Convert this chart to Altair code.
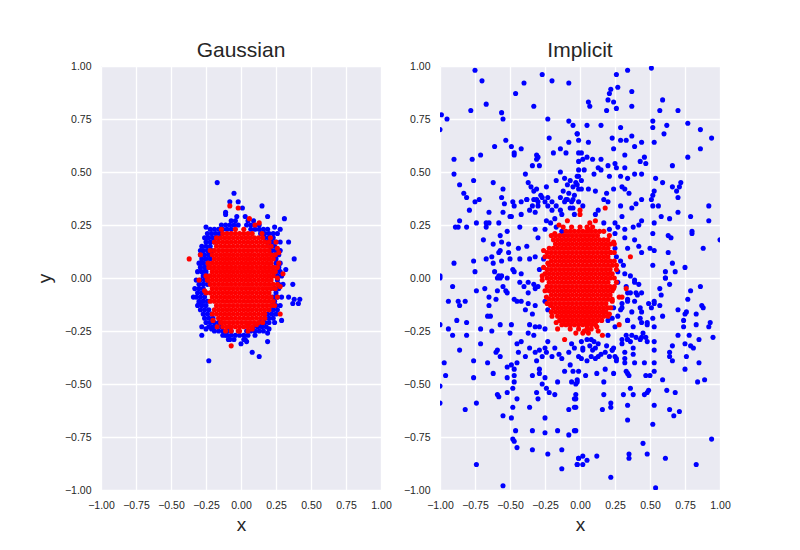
import altair as alt
import pandas as pd

TICKS = [-1.0, -0.75, -0.5, -0.25, 0.0, 0.25, 0.5, 0.75, 1.0]

# ---------------- Gaussian panel ----------------
gauss_blue_pts = [
    (-0.17, 0.45), (-0.05, 0.40), (-0.08, 0.36), (-0.02, 0.36), (0.01, 0.33), (-0.11, 0.31),
    (-0.11, 0.30), (0.15, 0.34), (0.19, 0.29), (0.31, 0.28), (-0.25, 0.24), (-0.24, 0.19),
    (0.24, 0.24), (0.28, 0.23), (0.34, 0.17), (0.38, 0.09), (-0.29, 0.13), (-0.29, 0.07),
    (0.32, 0.04), (0.37, -0.03), (-0.34, -0.09), (0.34, -0.09), (0.38, -0.10), (0.42, -0.10),
    (0.37, -0.12), (0.41, -0.12), (-0.30, -0.12), (-0.27, -0.11), (-0.28, -0.23), (-0.25, -0.24),
    (-0.21, -0.24), (-0.28, -0.27), (0.29, -0.20), (0.20, -0.24), (0.19, -0.26), (-0.11, -0.27),
    (-0.08, -0.29), (0.00, -0.31), (0.03, -0.29), (0.04, -0.30), (0.19, -0.30), (0.08, -0.35),
    (0.13, -0.37), (-0.23, -0.39),
]

gauss_blue_rows = [
    (0.29, [-0.03, 0.03]),
    (0.27, [-0.07, -0.04, 0.05, 0.09]),
    (0.25, [-0.14, -0.11, -0.08, -0.05, -0.02, 0.04, 0.07, 0.10, 0.13]),
    (0.23, [-0.22, -0.19, -0.16, -0.13, -0.10, -0.07, 0.07, 0.10, 0.13, 0.16, 0.19]),
    (0.21, [-0.24, -0.21, -0.18, -0.15, 0.14, 0.17, 0.20, 0.23, 0.26]),
    (0.19, [-0.26, -0.23, -0.20, -0.17, 0.17, 0.20, 0.23]),
    (0.17, [-0.25, -0.22, -0.19, 0.19, 0.22, 0.25, 0.28]),
    (0.15, [-0.28, -0.25, -0.22, 0.21, 0.24]),
    (0.13, [-0.27, -0.24, -0.21, 0.22, 0.25, 0.28]),
    (0.11, [-0.29, -0.26, -0.23, 0.24, 0.27]),
    (0.09, [-0.28, -0.25, -0.22, 0.25]),
    (0.07, [-0.30, -0.27, -0.24, 0.25, 0.28]),
    (0.05, [-0.29, -0.26, -0.23, 0.27]),
    (0.03, [-0.31, -0.28, -0.25, 0.25, 0.28]),
    (0.01, [-0.27, -0.24, 0.26, 0.29]),
    (-0.01, [-0.32, -0.29, -0.26, 0.26]),
    (-0.03, [-0.30, -0.27, -0.24, 0.27, 0.30]),
    (-0.05, [-0.33, -0.30, -0.27, 0.24, 0.27]),
    (-0.07, [-0.31, -0.28, -0.25, 0.25]),
    (-0.09, [-0.32, -0.29, -0.26, 0.23, 0.26, 0.29]),
    (-0.11, [-0.30, -0.27, -0.24, 0.24]),
    (-0.13, [-0.31, -0.28, -0.25, 0.22, 0.25, 0.28]),
    (-0.15, [-0.29, -0.26, -0.23, 0.23, 0.26]),
    (-0.17, [-0.27, -0.24, -0.21, 0.19, 0.22, 0.25]),
    (-0.19, [-0.26, -0.23, -0.20, 0.17, 0.20, 0.23]),
    (-0.21, [-0.25, -0.22, -0.19, -0.16, 0.14, 0.17, 0.20, 0.24]),
    (-0.23, [-0.23, -0.20, -0.17, -0.14, 0.09, 0.12, 0.15, 0.18]),
    (-0.25, [-0.19, -0.16, -0.13, -0.10, -0.07, 0.04, 0.07, 0.10, 0.13, 0.16]),
    (-0.27, [-0.13, -0.10, -0.07, -0.04, -0.01, 0.02, 0.05, 0.10]),
    (-0.29, [-0.09, -0.05, 0.02]),
]

gauss_red_pts = [
    (-0.08, 0.34), (-0.02, 0.33), (0.06, 0.28), (0.13, 0.26), (0.15, 0.21), (-0.37, 0.09),
    (-0.29, 0.11), (-0.30, -0.01), (0.25, 0.17), (0.26, 0.14), (0.27, 0.12), (0.23, 0.03),
    (0.26, 0.00), (0.30, 0.02), (0.28, -0.04), (0.26, -0.09), (0.28, -0.17), (-0.07, -0.32),
    (-0.14, -0.21), (-0.11, -0.25), (-0.08, -0.23), (0.05, -0.22), (0.11, -0.22), (0.17, -0.17),
    (-0.23, 0.05), (-0.24, -0.01), (-0.02, -0.25), (0.08, -0.24), (-0.17, -0.23), (0.10, 0.25),
    (-0.14, 0.23), (0.21, 0.19), (-0.26, -0.06), (0.27, 0.07), (0.24, -0.13), (-0.20, -0.20),
]

gauss_red_rows = [
    (0.23, [-0.04, 0.02]),
    (0.21, [-0.13, -0.10, -0.07, -0.04, -0.01, 0.02, 0.05, 0.08]),
    (0.19, [-0.175, -0.145, -0.115, -0.085, -0.055, -0.025, 0.005, 0.035, 0.065, 0.095, 0.125, 0.155]),
    (0.17, [-0.19, -0.16, -0.13, -0.10, -0.07, -0.04, -0.01, 0.02, 0.05, 0.08, 0.11, 0.14, 0.17, 0.20]),
    (0.15, [-0.175, -0.145, -0.115, -0.085, -0.055, -0.025, 0.005, 0.035, 0.065, 0.095, 0.125, 0.155, 0.185, 0.215]),
    (0.13, [-0.22, -0.19, -0.16, -0.13, -0.10, -0.07, -0.04, -0.01, 0.02, 0.05, 0.08, 0.11, 0.14, 0.17, 0.20]),
    (0.11, [-0.205, -0.175, -0.145, -0.115, -0.085, -0.055, -0.025, 0.005, 0.035, 0.065, 0.095, 0.125, 0.155, 0.185, 0.215, 0.245]),
    (0.09, [-0.19, -0.16, -0.13, -0.10, -0.07, -0.04, -0.01, 0.02, 0.05, 0.08, 0.11, 0.14, 0.17, 0.20, 0.23]),
    (0.07, [-0.235, -0.205, -0.175, -0.145, -0.115, -0.085, -0.055, -0.025, 0.005, 0.035, 0.065, 0.095, 0.125, 0.155, 0.185, 0.215]),
    (0.05, [-0.22, -0.19, -0.16, -0.13, -0.10, -0.07, -0.04, -0.01, 0.02, 0.05, 0.08, 0.11, 0.14, 0.17, 0.20, 0.23, 0.26]),
    (0.03, [-0.205, -0.175, -0.145, -0.115, -0.085, -0.055, -0.025, 0.005, 0.035, 0.065, 0.095, 0.125, 0.155, 0.185, 0.215, 0.245]),
    (0.01, [-0.25, -0.22, -0.19, -0.16, -0.13, -0.10, -0.07, -0.04, -0.01, 0.02, 0.05, 0.08, 0.11, 0.14, 0.17, 0.20, 0.23]),
    (-0.01, [-0.235, -0.205, -0.175, -0.145, -0.115, -0.085, -0.055, -0.025, 0.005, 0.035, 0.065, 0.095, 0.125, 0.155, 0.185, 0.215]),
    (-0.03, [-0.22, -0.19, -0.16, -0.13, -0.10, -0.07, -0.04, -0.01, 0.02, 0.05, 0.08, 0.11, 0.14, 0.17, 0.20, 0.23, 0.26]),
    (-0.05, [-0.205, -0.175, -0.145, -0.115, -0.085, -0.055, -0.025, 0.005, 0.035, 0.065, 0.095, 0.125, 0.155, 0.185, 0.215, 0.245]),
    (-0.07, [-0.25, -0.22, -0.19, -0.16, -0.13, -0.10, -0.07, -0.04, -0.01, 0.02, 0.05, 0.08, 0.11, 0.14, 0.17, 0.20]),
    (-0.09, [-0.205, -0.175, -0.145, -0.115, -0.085, -0.055, -0.025, 0.005, 0.035, 0.065, 0.095, 0.125, 0.155, 0.185, 0.215]),
    (-0.11, [-0.22, -0.19, -0.16, -0.13, -0.10, -0.07, -0.04, -0.01, 0.02, 0.05, 0.08, 0.11, 0.14, 0.17, 0.20, 0.23]),
    (-0.13, [-0.175, -0.145, -0.115, -0.085, -0.055, -0.025, 0.005, 0.035, 0.065, 0.095, 0.125, 0.155, 0.185, 0.215]),
    (-0.15, [-0.19, -0.16, -0.13, -0.10, -0.07, -0.04, -0.01, 0.02, 0.05, 0.08, 0.11, 0.14, 0.17, 0.20]),
    (-0.17, [-0.205, -0.175, -0.145, -0.115, -0.085, -0.055, -0.025, 0.005, 0.035, 0.065, 0.095, 0.125, 0.155]),
    (-0.19, [-0.16, -0.13, -0.10, -0.07, -0.04, -0.01, 0.02, 0.05, 0.08, 0.11, 0.14, 0.17]),
    (-0.21, [-0.145, -0.115, -0.085, -0.055, -0.025, 0.005, 0.035, 0.065, 0.095, 0.125, 0.155]),
    (-0.23, [-0.13, -0.10, -0.07, -0.04, -0.01, 0.02, 0.05, 0.08]),
    (-0.25, [-0.07, -0.01, 0.05]),
]

# ---------------- Implicit panel ----------------
impl_blue_pts = [
    # upper left
    (-0.75, 0.98), (-0.70, 0.93), (-0.27, 0.96), (-0.40, 0.92), (-0.20, 0.93), (-0.08, 0.92),
    (-0.46, 0.87), (-0.67, 0.82), (-0.78, 0.79), (-0.33, 0.81), (-0.56, 0.78), (-0.55, 0.75),
    (-0.99, 0.77), (-0.95, 0.75), (-1.00, 0.70), (-0.23, 0.75), (-0.08, 0.74), (-0.05, 0.72),
    (-0.02, 0.68), (-0.22, 0.66), (-0.53, 0.65), (-0.49, 0.62), (-0.61, 0.62), (-0.42, 0.61),
    (-0.47, 0.59), (-0.47, 0.58), (-0.71, 0.58), (-0.31, 0.58), (-0.30, 0.57), (-0.31, 0.56),
    (-0.19, 0.59), (-0.14, 0.61), (-0.10, 0.59), (-0.08, 0.64), (-0.01, 0.59), (-0.90, 0.56),
    (-0.77, 0.56), (-0.34, 0.53), (-0.29, 0.53), (-0.14, 0.50), (-0.90, 0.49), (-0.39, 0.49),
    (-0.02, 0.48), (-0.76, 0.46), (-0.86, 0.44), (-0.62, 0.45), (-0.55, 0.42), (-0.37, 0.45),
    (-0.35, 0.43), (-0.31, 0.42), (-0.24, 0.43), (-0.33, 0.41), (-0.83, 0.40), (-0.81, 0.38),
    (-0.72, 0.37), (-0.75, 0.36), (-0.56, 0.38), (-0.48, 0.36), (-0.47, 0.34), (-0.54, 0.35),
    (-0.79, 0.32), (-0.65, 0.31), (-0.55, 0.31), (-0.50, 0.29), (-0.49, 0.29), (-0.86, 0.27),
    (-0.89, 0.24), (-0.87, 0.24), (-0.81, 0.24), (-0.74, 0.26), (-0.67, 0.26), (-0.65, 0.26),
    (-0.67, 0.24), (-0.58, 0.26), (-0.52, 0.22), (-0.57, 0.20), (-0.69, 0.18), (-0.62, 0.16),
    (-0.56, 0.17), (-0.51, 0.16), (-0.57, 0.13), (-0.58, 0.12), (-0.51, 0.12), (-0.63, 0.10),
    (-0.67, 0.09), (-0.62, 0.07), (-0.56, 0.08), (-0.50, 0.09), (-0.76, 0.08), (-0.90, 0.07),
    (-0.75, 0.03), (-0.61, 0.03), (-0.58, 0.01), (-0.56, 0.01), (-1.00, 0.01), (-0.48, 0.04),
    (-0.47, 0.03), (-0.11, 0.47), (-0.07, 0.46), (-0.03, 0.45), (-0.09, 0.44), (-0.05, 0.43),
    (-0.01, 0.42), (-0.12, 0.41), (-0.08, 0.40), (-0.04, 0.39), (-0.09, 0.37), (-0.06, 0.36),
    (-0.01, 0.36), (-0.05, 0.33), (-0.17, 0.46), (-0.14, 0.38), (-0.28, 0.39), (-0.31, 0.37),
    (-0.25, 0.36), (-0.30, 0.34), (-0.23, 0.34), (-0.38, 0.37), (-0.42, 0.36), (-0.34, 0.34),
    # upper right
    (0.51, 0.99), (0.34, 0.98), (0.26, 0.96), (0.27, 0.90), (0.22, 0.89), (0.21, 0.87),
    (0.20, 0.84), (0.24, 0.83), (0.26, 0.80), (0.19, 0.79), (0.06, 0.83), (0.07, 0.81),
    (0.37, 0.88), (0.37, 0.81), (0.59, 0.84), (0.57, 0.79), (0.70, 0.79), (0.52, 0.74),
    (0.52, 0.71), (0.62, 0.72), (0.60, 0.68), (0.77, 0.73), (0.86, 0.70), (0.94, 0.66),
    (0.86, 0.61), (0.77, 0.57), (0.66, 0.53), (0.05, 0.72), (0.15, 0.72), (0.29, 0.71),
    (0.23, 0.66), (0.29, 0.65), (0.33, 0.65), (0.37, 0.67), (0.44, 0.64), (0.53, 0.64),
    (0.39, 0.62), (0.24, 0.61), (0.32, 0.58), (0.43, 0.55), (0.46, 0.57), (0.47, 0.54),
    (-0.02, 0.68), (-0.01, 0.65), (0.06, 0.64), (0.01, 0.59), (0.02, 0.56), (-0.01, 0.55),
    (0.05, 0.57), (0.09, 0.56), (0.15, 0.56), (-0.01, 0.51), (0.03, 0.51), (0.13, 0.52),
    (0.15, 0.51), (0.20, 0.53), (0.25, 0.54), (0.26, 0.52), (0.32, 0.52), (0.10, 0.49),
    (0.21, 0.48), (0.29, 0.48), (0.34, 0.47), (0.39, 0.49), (0.44, 0.49), (0.54, 0.47),
    (0.59, 0.45), (0.66, 0.43), (0.71, 0.43), (0.72, 0.45), (0.69, 0.41), (0.70, 0.38),
    (0.53, 0.41), (0.52, 0.39), (0.51, 0.37), (0.56, 0.34), (0.52, 0.34), (0.70, 0.31),
    (0.92, 0.34), (0.92, 0.27), (0.79, 0.29), (0.58, 0.29), (0.64, 0.28), (0.53, 0.26),
    (0.52, 0.21), (0.63, 0.20), (0.65, 0.19), (0.80, 0.21), (0.80, 0.22), (1.00, 0.18),
    (0.88, 0.14), (0.63, 0.12), (0.66, 0.07), (0.75, 0.05), (0.61, 0.03), (0.68, 0.03),
    (0.61, 0.00), (0.50, 0.14), (0.53, 0.13), (0.52, 0.06), (-0.01, 0.48), (0.01, 0.46),
    (-0.02, 0.44), (0.01, 0.42), (0.06, 0.42), (0.11, 0.41), (0.19, 0.40), (0.24, 0.42),
    (0.30, 0.43), (0.32, 0.42), (0.35, 0.40),
    # lower left
    (-1.00, 0.00), (-0.91, -0.04), (-0.74, -0.06), (-0.68, -0.05), (-0.59, 0.00), (-0.57, 0.00),
    (-0.52, 0.00), (-0.55, -0.04), (-0.53, -0.06), (-0.59, -0.06), (-0.65, -0.09), (-0.60, -0.10),
    (-0.65, -0.13), (-0.94, -0.11), (-0.87, -0.11), (-0.82, -0.11), (-0.86, -0.13), (-0.52, -0.07),
    (-0.47, -0.10), (-0.66, -0.18), (-0.64, -0.18), (-0.81, -0.21), (-0.88, -0.20), (-1.00, -0.22),
    (-0.94, -0.24), (-0.91, -0.27), (-0.81, -0.27), (-0.71, -0.24), (-0.57, -0.22), (-0.63, -0.25),
    (-0.49, -0.22), (-0.50, -0.26), (-0.86, -0.34), (-0.71, -0.31), (-0.59, -0.34), (-0.60, -0.35),
    (-0.57, -0.37), (-0.97, -0.40), (-0.96, -0.46), (-0.76, -0.39), (-0.66, -0.40), (-0.76, -0.47),
    (-0.62, -0.45), (-0.52, -0.42), (-0.49, -0.41), (-0.47, -0.43), (-0.47, -0.46), (-0.52, -0.47),
    (-0.47, -0.49), (-0.48, -0.52), (-1.00, -0.51), (-0.59, -0.55), (-0.58, -0.56), (-0.52, -0.54),
    (-0.45, -0.57), (-0.74, -0.59), (-1.00, -0.59), (-0.82, -0.62), (-0.55, -0.65), (-0.49, -0.66),
    (-0.48, -0.61), (-0.46, -0.72), (-0.48, -0.76), (-0.47, -0.77), (-0.45, -0.80), (-0.74, -0.88),
    (-0.55, -0.98), (-0.34, -0.46), (-0.31, -0.39), (-0.29, -0.43), (-0.29, -0.45), (-0.25, -0.47),
    (-0.27, -0.50), (-0.24, -0.52), (-0.22, -0.54), (-0.18, -0.55), (-0.31, -0.54), (-0.30, -0.57),
    (-0.36, -0.61), (-0.25, -0.66), (-0.34, -0.72), (-0.25, -0.73), (-0.16, -0.72), (-0.34, -0.81),
    (-0.23, -0.83), (-0.13, -0.81), (-0.13, -0.90), (-0.08, -0.74), (-0.04, -0.72), (-0.01, -0.85),
    (-0.02, -0.88), (-0.08, -0.62), (-0.04, -0.61), (-0.04, -0.57), (-0.03, -0.55), (-0.16, -0.49),
    (-0.06, -0.49), (-0.02, -0.49), (-0.11, -0.44), (-0.05, -0.44), (-0.07, -0.41), (-0.02, -0.48),
    (-0.45, -0.40),
    # lower right
    (0.61, 0.00), (0.64, -0.03), (0.57, -0.05), (0.58, -0.08), (0.86, -0.04), (0.79, -0.06),
    (0.77, -0.10), (0.70, -0.15), (0.76, -0.16), (0.75, -0.17), (0.83, -0.17), (0.74, -0.20),
    (0.74, -0.23), (0.83, -0.22), (0.87, -0.13), (0.88, -0.14), (0.93, -0.21), (0.92, -0.23),
    (0.95, -0.28), (0.85, -0.29), (0.78, -0.27), (0.75, -0.31), (0.79, -0.32), (0.81, -0.33),
    (0.70, -0.27), (0.66, -0.32), (0.64, -0.35), (0.64, -0.37), (0.66, -0.39), (0.76, -0.37),
    (0.75, -0.43), (0.85, -0.40), (0.84, -0.49), (0.89, -0.48), (0.53, -0.12), (0.53, -0.11),
    (0.49, -0.12), (0.51, -0.14), (0.57, -0.13), (0.59, -0.18), (0.52, -0.19), (0.48, -0.21),
    (0.48, -0.22), (0.53, -0.23), (0.53, -0.30), (0.53, -0.34), (0.53, -0.40), (0.53, -0.44),
    (0.59, -0.48), (0.62, -0.53), (0.68, -0.54), (0.64, -0.62), (0.67, -0.65), (0.71, -0.63),
    (0.53, -0.60), (0.52, -0.69), (0.48, -0.54), (0.49, -0.53), (0.94, -0.76), (0.45, -0.78),
    (0.48, -0.83), (0.61, -0.85), (0.83, -0.88), (0.54, -0.99), (0.22, -0.94), (0.35, -0.83),
    (0.35, -0.85), (0.12, -0.84), (0.02, -0.84), (-0.01, -0.85), (0.05, -0.86), (0.02, -0.88),
    (-0.02, -0.88), (-0.03, -0.72), (0.34, -0.67), (0.16, -0.62), (0.22, -0.61), (0.22, -0.59),
    (0.34, -0.60), (0.17, -0.55), (0.31, -0.55), (0.38, -0.55), (0.36, -0.52), (0.46, -0.55),
    (0.17, -0.49), (-0.03, -0.50), (-0.03, -0.57), (-0.03, -0.61), (0.04, -0.46), (0.12, -0.45),
    (0.24, -0.45), (0.18, -0.43), (0.34, -0.45), (-0.01, -0.44), (0.33, -0.44), (0.35, -0.46),
    (0.26, -0.39), (0.32, -0.40), (0.39, -0.40), (0.46, -0.40), (0.47, -0.46), (0.50, -0.46),
    (0.11, -0.38), (0.01, -0.38), (0.05, -0.39), (0.05, -0.29), (0.08, -0.29), (0.30, -0.29),
    (0.33, -0.27), (0.34, -0.29), (0.36, -0.30), (0.40, -0.28), (0.44, -0.28), (0.47, -0.28),
    (0.48, -0.30), (0.07, -0.32), (0.09, -0.34), (0.13, -0.31), (0.02, -0.34), (0.21, -0.37),
    (0.24, -0.33), (0.23, -0.34), (0.15, -0.36), (0.26, -0.38), (0.38, -0.36), (0.32, -0.38),
    (0.24, -0.14), (0.30, -0.14), (0.34, -0.10), (0.34, -0.07), (0.41, -0.08), (0.42, -0.03),
    (0.39, -0.01), (0.33, -0.04), (0.27, -0.02), (0.34, -0.20), (0.20, -0.20), (0.37, -0.16),
    (0.44, -0.16),
    # around the centre
    (-0.38, 0.37), (-0.33, 0.37), (-0.27, 0.38), (-0.30, 0.36), (-0.32, 0.31), (-0.36, 0.32),
    (-0.42, 0.30), (-0.43, 0.24), (-0.23, 0.38), (-0.20, 0.32), (-0.24, 0.27), (-0.21, 0.26),
    (-0.18, 0.28), (-0.25, 0.23), (-0.32, 0.23), (-0.30, 0.19), (-0.38, 0.15), (-0.44, 0.14),
    (-0.43, 0.09), (-0.36, 0.09), (-0.32, 0.10), (-0.42, 0.02), (-0.43, -0.02), (-0.40, -0.04),
    (-0.37, -0.02), (-0.33, -0.03), (-0.32, -0.05), (-0.37, -0.07), (-0.45, -0.11), (-0.42, -0.11),
    (-0.37, -0.12), (-0.32, -0.13), (-0.39, -0.15), (-0.34, -0.17), (-0.36, -0.22), (-0.32, -0.23),
    (-0.29, -0.23), (-0.25, -0.24), (-0.37, -0.26), (-0.33, -0.27), (-0.42, -0.30), (-0.45, -0.31),
    (-0.36, -0.33), (-0.32, -0.35), (-0.29, -0.34), (-0.23, -0.30), (-0.25, -0.33), (-0.24, -0.35),
    (-0.18, -0.33), (-0.15, -0.36), (-0.06, -0.31), (-0.04, -0.33), (0.01, -0.30), (0.02, -0.33),
    (0.10, -0.30), (0.11, -0.33), (0.19, -0.32), (0.23, -0.34), (0.25, -0.37), (0.13, -0.37),
    (0.30, -0.31), (0.34, -0.29), (0.37, -0.27), (0.43, -0.29), (0.45, -0.26), (0.38, -0.23),
    (0.44, -0.21), (0.34, -0.20), (0.43, -0.19), (0.29, -0.15), (0.30, -0.12), (0.34, -0.11),
    (0.39, -0.11), (0.43, -0.14), (0.36, -0.07), (0.40, -0.07), (0.44, -0.07), (0.39, -0.02),
    (0.32, 0.02), (0.36, 0.01), (0.27, 0.03), (0.31, 0.06), (0.29, 0.08), (0.34, 0.14),
    (0.42, 0.15), (0.39, 0.18), (0.44, 0.12), (0.32, 0.19), (0.27, 0.24), (0.32, 0.23),
    (0.38, 0.24), (0.42, 0.25), (0.44, 0.27), (0.25, 0.26), (0.30, 0.29), (0.37, 0.33),
    (0.40, 0.35), (0.44, 0.37), (0.29, 0.34), (0.17, 0.37), (0.20, 0.36), (0.13, 0.32),
    (0.11, 0.30), (0.02, 0.34), (-0.05, 0.37), (-0.10, 0.37), (-0.11, 0.36), (-0.07, 0.33),
    (-0.04, 0.30), (-0.13, 0.30), (-0.14, 0.32), (-0.17, 0.34), (-0.20, 0.36), (-0.17, 0.24),
    (-0.13, 0.22), (0.17, 0.26), (0.21, 0.23), (0.25, 0.21), (0.25, 0.14), (0.26, 0.10),
    (-0.29, 0.04), (-0.26, 0.09), (-0.30, -0.04), (-0.25, -0.11), (-0.23, -0.15), (0.23, -0.19),
    (0.27, -0.18), (0.25, -0.23), (0.20, -0.27), (-0.44, -0.35), (-0.39, -0.37), (-0.27, -0.37),
    (-0.20, -0.37), (-0.13, -0.38), (-0.08, -0.35), (-0.01, -0.37), (0.08, -0.37), (0.18, -0.35),
    (0.32, -0.35), (0.38, -0.33),
]

impl_red_pts = [
    (0.00, 0.32), (0.18, 0.33), (0.00, 0.30), (-0.09, 0.27), (-0.15, 0.25), (-0.12, 0.24),
    (0.11, 0.27), (0.07, 0.26), (0.09, 0.24), (0.06, 0.23), (0.21, 0.20), (0.24, 0.17),
    (0.36, 0.10), (-0.26, 0.13), (-0.23, 0.07), (-0.27, 0.01), (-0.27, -0.01), (0.26, -0.02),
    (0.33, -0.05), (0.28, -0.09), (0.30, -0.09), (0.23, -0.11), (0.17, -0.16), (0.21, -0.17),
    (0.28, -0.22), (0.16, -0.27), (-0.11, -0.29), (-0.16, -0.24), (-0.03, -0.26), (0.02, -0.26),
    (0.06, -0.26), (0.12, -0.23), (0.05, -0.22), (-0.20, -0.18), (-0.21, -0.13), (0.03, -0.25),
    (0.24, -0.05), (0.22, 0.12), (-0.18, 0.21), (0.17, 0.22), (-0.26, 0.05), (0.26, 0.04),
    (-0.24, -0.09), (0.22, -0.14), (-0.17, -0.21), (0.13, -0.25),
]

impl_red_rows = [
    (0.24, [-0.06, 0.00, 0.05]),
    (0.22, [-0.10, -0.07, -0.04, -0.01, 0.02, 0.05, 0.08, 0.11, 0.14]),
    (0.20, [-0.205, -0.175, -0.145, -0.115, -0.085, -0.055, -0.025, 0.005, 0.035, 0.065, 0.095, 0.125]),
    (0.18, [-0.19, -0.16, -0.13, -0.10, -0.07, -0.04, -0.01, 0.02, 0.05, 0.08, 0.11, 0.14, 0.17, 0.20]),
    (0.16, [-0.175, -0.145, -0.115, -0.085, -0.055, -0.025, 0.005, 0.035, 0.065, 0.095, 0.125, 0.155, 0.185, 0.215, 0.245]),
    (0.14, [-0.22, -0.19, -0.16, -0.13, -0.10, -0.07, -0.04, -0.01, 0.02, 0.05, 0.08, 0.11, 0.14, 0.17, 0.20]),
    (0.12, [-0.235, -0.205, -0.175, -0.145, -0.115, -0.085, -0.055, -0.025, 0.005, 0.035, 0.065, 0.095, 0.125, 0.155, 0.185, 0.215, 0.245]),
    (0.10, [-0.25, -0.22, -0.19, -0.16, -0.13, -0.10, -0.07, -0.04, -0.01, 0.02, 0.05, 0.08, 0.11, 0.14, 0.17, 0.20]),
    (0.08, [-0.205, -0.175, -0.145, -0.115, -0.085, -0.055, -0.025, 0.005, 0.035, 0.065, 0.095, 0.125, 0.155, 0.185, 0.215, 0.245]),
    (0.06, [-0.22, -0.19, -0.16, -0.13, -0.10, -0.07, -0.04, -0.01, 0.02, 0.05, 0.08, 0.11, 0.14, 0.17, 0.20, 0.23, 0.26]),
    (0.04, [-0.235, -0.205, -0.175, -0.145, -0.115, -0.085, -0.055, -0.025, 0.005, 0.035, 0.065, 0.095, 0.125, 0.155, 0.185, 0.215]),
    (0.02, [-0.25, -0.22, -0.19, -0.16, -0.13, -0.10, -0.07, -0.04, -0.01, 0.02, 0.05, 0.08, 0.11, 0.14, 0.17, 0.20, 0.23]),
    (0.00, [-0.235, -0.205, -0.175, -0.145, -0.115, -0.085, -0.055, -0.025, 0.005, 0.035, 0.065, 0.095, 0.125, 0.155, 0.185, 0.215, 0.245]),
    (-0.02, [-0.22, -0.19, -0.16, -0.13, -0.10, -0.07, -0.04, -0.01, 0.02, 0.05, 0.08, 0.11, 0.14, 0.17, 0.20]),
    (-0.04, [-0.235, -0.205, -0.175, -0.145, -0.115, -0.085, -0.055, -0.025, 0.005, 0.035, 0.065, 0.095, 0.125, 0.155, 0.185, 0.215, 0.245]),
    (-0.06, [-0.25, -0.22, -0.19, -0.16, -0.13, -0.10, -0.07, -0.04, -0.01, 0.02, 0.05, 0.08, 0.11, 0.14, 0.17, 0.20, 0.23]),
    (-0.08, [-0.205, -0.175, -0.145, -0.115, -0.085, -0.055, -0.025, 0.005, 0.035, 0.065, 0.095, 0.125, 0.155, 0.185, 0.215]),
    (-0.10, [-0.22, -0.19, -0.16, -0.13, -0.10, -0.07, -0.04, -0.01, 0.02, 0.05, 0.08, 0.11, 0.14, 0.17, 0.20, 0.23]),
    (-0.12, [-0.235, -0.205, -0.175, -0.145, -0.115, -0.085, -0.055, -0.025, 0.005, 0.035, 0.065, 0.095, 0.125, 0.155, 0.185]),
    (-0.14, [-0.19, -0.16, -0.13, -0.10, -0.07, -0.04, -0.01, 0.02, 0.05, 0.08, 0.11, 0.14, 0.17, 0.20]),
    (-0.16, [-0.205, -0.175, -0.145, -0.115, -0.085, -0.055, -0.025, 0.005, 0.035, 0.065, 0.095, 0.125, 0.155, 0.185]),
    (-0.18, [-0.16, -0.13, -0.10, -0.07, -0.04, -0.01, 0.02, 0.05, 0.08, 0.11, 0.14, 0.17, 0.20]),
    (-0.20, [-0.145, -0.115, -0.085, -0.055, -0.025, 0.005, 0.035, 0.065, 0.095, 0.125, 0.155]),
    (-0.22, [-0.13, -0.10, -0.07, -0.04, -0.01, 0.02, 0.05, 0.08, 0.11]),
    (-0.24, [-0.07, -0.01, 0.05, 0.08]),
]


def rows_to_pts(rows):
    return [(x, y) for y, xs in rows for x in xs]


def frame(pts):
    return pd.DataFrame({"x": [p[0] for p in pts], "y": [p[1] for p in pts]})


FONT = "Liberation Sans"
TEXT = "#262626"


def panel(blue, red, title, ytitle):
    xs = alt.X("x:Q", scale=alt.Scale(domain=[-1, 1], nice=False, zero=False),
               axis=alt.Axis(values=TICKS, format=".2f", title="x"))
    if ytitle:
        yax = alt.Axis(values=TICKS, format=".2f", title="y")
    else:
        yax = alt.Axis(values=TICKS, format=".2f", title=None)
    ys = alt.Y("y:Q", scale=alt.Scale(domain=[-1, 1], nice=False, zero=False), axis=yax)
    b = alt.Chart(frame(blue)).mark_circle(size=26, opacity=1, color="#0000FF", clip=True).encode(x=xs, y=ys)
    r = alt.Chart(frame(red)).mark_circle(size=26, opacity=1, color="#FF0000", clip=True).encode(x=xs, y=ys)
    return alt.layer(b, r).properties(
        width=280, height=424,
        title=alt.TitleParams(title, font=FONT, fontSize=21, fontWeight="normal",
                              color=TEXT, anchor="middle", offset=0),
    )


left = panel(gauss_blue_pts + rows_to_pts(gauss_blue_rows),
             gauss_red_pts + rows_to_pts(gauss_red_rows), "Gaussian", True)
right = panel(impl_blue_pts, impl_red_pts + rows_to_pts(impl_red_rows), "Implicit", False)

chart = alt.hconcat(left, right, spacing=11).properties(
    padding={"left": 27, "top": 32, "right": 10, "bottom": 10},
    background="white",
).configure_view(
    fill="#EAEAF2", strokeWidth=0,
).configure_axis(
    grid=True, gridColor="white", gridWidth=1.3, gridOpacity=1,
    domain=False, ticks=False, tickSize=0, labelFlush=False,
    labelFont=FONT, labelFontSize=10.5, labelColor=TEXT, labelPadding=10,
    titleFont=FONT, titleFontSize=19, titleFontWeight="normal", titleColor=TEXT,
).configure_axisX(titlePadding=5).configure_axisY(titlePadding=10)

chart.save("out.html", embed_options={"renderer": "svg", "actions": False})
